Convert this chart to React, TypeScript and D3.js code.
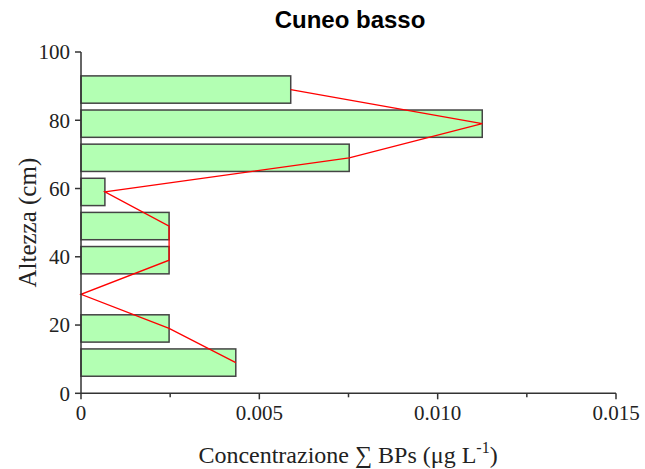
import React from "react";
import * as d3 from "d3";

const heights = [9, 19, 29, 39, 49, 59, 69, 79, 89];
const values = [0.00434, 0.00247, 0, 0.00247, 0.00247, 0.00067, 0.00752, 0.01125, 0.00588];
const xTicks = [0, 0.005, 0.01, 0.015];
const xTickLabels = ["0", "0.005", "0.010", "0.015"];
const xMinorTicks = [0.0025, 0.0075, 0.0125];
const yTicks = [0, 20, 40, 60, 80, 100];
const barHeight = 8;

export default function App() {
  const W = 645, H = 469;
  const x = d3.scaleLinear().domain([0, 0.015]).range([81, 616]);
  const y = d3.scaleLinear().domain([0, 100]).range([393.3, 52]);
  const line = d3
    .line<number>()
    .x((_, i) => x(values[i]))
    .y((h) => y(h));
  const serif = "'Liberation Serif', 'Times New Roman', serif";
  const axisColor = "#333";
  return (
    <svg width={W} height={H} style={{ position: "absolute", left: 0, top: 0 }}>
      <text x={350} y={28} textAnchor="middle" fontFamily="'Liberation Sans', Arial, sans-serif" fontWeight="bold" fontSize={24} fill="#000">
        Cuneo basso
      </text>
      {heights.map((h, i) =>
        values[i] > 0 ? (
          <rect
            key={i}
            x={x(0)}
            y={y(h + barHeight / 2)}
            width={x(values[i]) - x(0)}
            height={y(h - barHeight / 2) - y(h + barHeight / 2)}
            fill="#b3ffb3"
            stroke="#444"
            strokeWidth={1.5}
          />
        ) : null
      )}
      <path d={line(heights) || ""} fill="none" stroke="#ff0000" strokeWidth={1.3} />
      <line x1={x(0)} x2={x(0)} y1={y(0)} y2={y(100)} stroke={axisColor} strokeWidth={1.5} />
      <line x1={x(0)} x2={x(0.015)} y1={y(0)} y2={y(0)} stroke={axisColor} strokeWidth={1.5} />
      {yTicks.map((t) => (
        <g key={t}>
          <line x1={x(0) - 6} x2={x(0)} y1={y(t)} y2={y(t)} stroke={axisColor} strokeWidth={1.5} />
          <text x={70} y={y(t)} dy="0.35em" textAnchor="end" fontFamily={serif} fontSize={21} fill="#222">
            {t}
          </text>
        </g>
      ))}
      {xTicks.map((t, i) => (
        <g key={t}>
          <line x1={x(t)} x2={x(t)} y1={y(0)} y2={y(0) + 6} stroke={axisColor} strokeWidth={1.5} />
          <text x={x(t)} y={420} textAnchor="middle" fontFamily={serif} fontSize={21} fill="#222">
            {xTickLabels[i]}
          </text>
        </g>
      ))}
      {xMinorTicks.map((t) => (
        <line key={t} x1={x(t)} x2={x(t)} y1={y(0)} y2={y(0) + 4} stroke={axisColor} strokeWidth={1.5} />
      ))}
      <text x={348} y={463} textAnchor="middle" fontFamily={serif} fontSize={24} fill="#222">
        Concentrazione ∑ BPs (μg L
        <tspan dy={-10} fontSize={16}>-1</tspan>
        <tspan dy={10}>)</tspan>
      </text>
      <text
        transform={`translate(36, ${y(50)}) rotate(-90)`}
        textAnchor="middle"
        fontFamily={serif}
        fontSize={25}
        fill="#222"
      >
        Altezza (cm)
      </text>
    </svg>
  );
}
